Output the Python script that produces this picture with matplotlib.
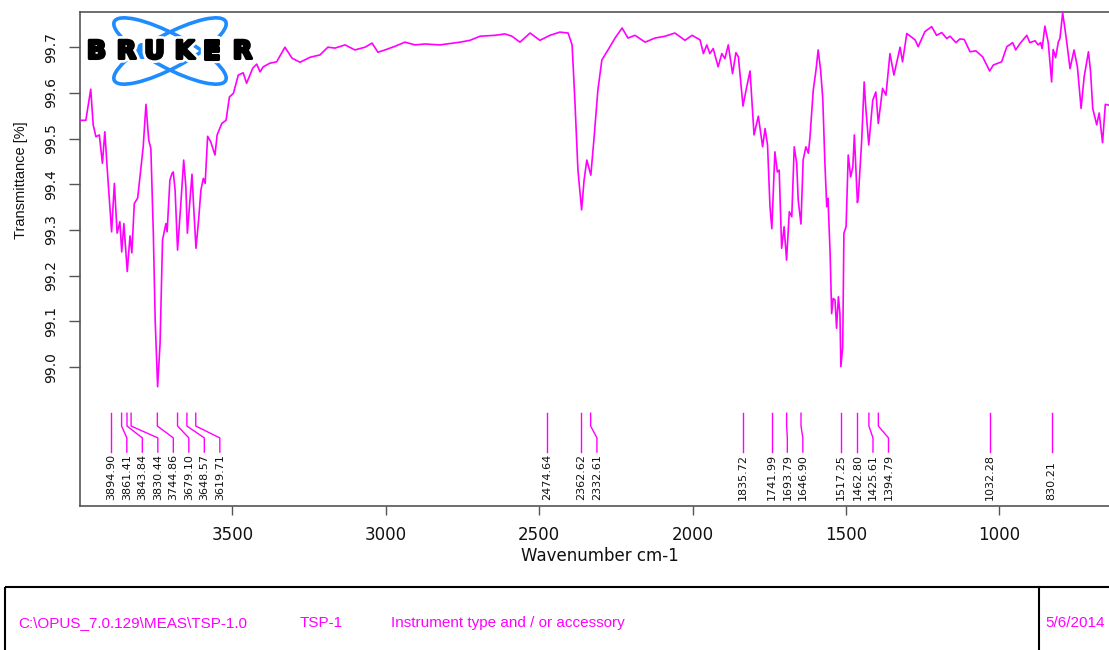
import matplotlib
matplotlib.use("Agg")
import numpy as np
import matplotlib.pyplot as plt
from matplotlib.patches import Ellipse, Circle, Rectangle
import matplotlib.patheffects as pe

# IR spectrum (wavenumber in cm-1, transmittance in %)
wavenumber = [
    3997, 3978, 3962, 3954, 3945, 3934, 3924, 3916, 3908, 3894,
    3885, 3876, 3867, 3861, 3854, 3843, 3834, 3828, 3820, 3809,
    3798, 3791, 3782, 3773, 3766, 3758, 3752, 3744, 3736, 3728,
    3717, 3713, 3704, 3697, 3693, 3687, 3679, 3669, 3659, 3652,
    3647, 3642, 3632, 3626, 3619, 3610, 3603, 3595, 3589, 3581,
    3571, 3557, 3550, 3535, 3521, 3510, 3497, 3481, 3465, 3454,
    3434, 3421, 3410, 3400, 3378, 3356, 3329, 3306, 3280, 3247,
    3215, 3189, 3166, 3133, 3101, 3068, 3045, 3026, 3003, 2970,
    2938, 2905, 2873, 2824, 2758, 2726, 2693, 2644, 2612, 2589,
    2563, 2530, 2498, 2465, 2433, 2406, 2393, 2384, 2374, 2362,
    2354, 2345, 2332, 2322, 2309, 2296, 2276, 2253, 2230, 2211,
    2188, 2155, 2123, 2090, 2058, 2025, 2002, 1976, 1965, 1954,
    1944, 1933, 1917, 1905, 1895, 1884, 1870, 1859, 1851, 1836,
    1826, 1813, 1800, 1786, 1778, 1772, 1764, 1756, 1748, 1742,
    1732, 1724, 1718, 1710, 1702, 1694, 1685, 1677, 1669, 1661,
    1656, 1647, 1640, 1631, 1623, 1618, 1607, 1598, 1591, 1583,
    1576, 1569, 1563, 1559, 1552, 1547, 1542, 1536, 1531, 1525,
    1520, 1517, 1511, 1507, 1500, 1493, 1485, 1478, 1473, 1463,
    1460, 1449, 1441, 1436, 1426, 1413, 1403, 1395, 1381, 1370,
    1357, 1344, 1324, 1316, 1302, 1275, 1265, 1243, 1221, 1205,
    1188, 1172, 1161, 1142, 1129, 1115, 1096, 1077, 1055, 1032,
    1020, 993, 976, 957, 947, 933, 911, 901, 884, 874,
    866, 861, 852, 841, 830, 825, 817, 808, 803, 794,
    783, 770, 757, 746, 734, 724, 710, 703, 696, 683,
    675, 664, 655, 643,
]
transmittance = [
    99.540, 99.540, 99.608, 99.530, 99.504, 99.508, 99.446, 99.515, 99.431, 99.296,
    99.402, 99.293, 99.318, 99.252, 99.314, 99.209, 99.287, 99.250, 99.358, 99.370,
    99.438, 99.482, 99.575, 99.497, 99.478, 99.293, 99.103, 98.957, 99.052, 99.278,
    99.314, 99.296, 99.409, 99.424, 99.427, 99.387, 99.256, 99.351, 99.453, 99.395,
    99.293, 99.336, 99.422, 99.344, 99.260, 99.325, 99.387, 99.413, 99.402, 99.505,
    99.493, 99.464, 99.508, 99.533, 99.540, 99.591, 99.599, 99.639, 99.644, 99.621,
    99.654, 99.663, 99.646, 99.657, 99.665, 99.668, 99.700, 99.676, 99.667, 99.678,
    99.683, 99.700, 99.698, 99.705, 99.694, 99.700, 99.709, 99.689, 99.694, 99.702,
    99.711, 99.705, 99.707, 99.705, 99.711, 99.715, 99.724, 99.726, 99.729, 99.724,
    99.711, 99.731, 99.715, 99.726, 99.733, 99.731, 99.705, 99.584, 99.431, 99.344,
    99.409, 99.453, 99.420, 99.497, 99.606, 99.672, 99.694, 99.720, 99.742, 99.720,
    99.726, 99.711, 99.720, 99.724, 99.731, 99.715, 99.726, 99.716, 99.686, 99.705,
    99.686, 99.697, 99.657, 99.686, 99.675, 99.705, 99.642, 99.688, 99.679, 99.571,
    99.606, 99.648, 99.508, 99.549, 99.511, 99.482, 99.522, 99.486, 99.351, 99.303,
    99.471, 99.427, 99.431, 99.260, 99.307, 99.234, 99.340, 99.329, 99.482, 99.446,
    99.365, 99.313, 99.453, 99.482, 99.468, 99.500, 99.606, 99.650, 99.694, 99.650,
    99.588, 99.446, 99.351, 99.369, 99.249, 99.117, 99.150, 99.147, 99.085, 99.154,
    99.117, 99.001, 99.044, 99.293, 99.307, 99.464, 99.416, 99.438, 99.508, 99.360,
    99.373, 99.497, 99.624, 99.570, 99.486, 99.584, 99.602, 99.533, 99.610, 99.595,
    99.686, 99.639, 99.700, 99.668, 99.730, 99.716, 99.701, 99.734, 99.745, 99.726,
    99.732, 99.719, 99.724, 99.710, 99.718, 99.717, 99.690, 99.692, 99.679, 99.648,
    99.661, 99.668, 99.701, 99.710, 99.694, 99.708, 99.726, 99.710, 99.714, 99.705,
    99.710, 99.697, 99.746, 99.710, 99.624, 99.695, 99.677, 99.712, 99.719, 99.775,
    99.723, 99.653, 99.694, 99.657, 99.566, 99.635, 99.690, 99.646, 99.566, 99.530,
    99.556, 99.491, 99.575, 99.573,
]

# picked peaks
peak_positions = [
    3894.90, 3861.41, 3843.84, 3830.44, 3744.86, 3679.10, 3648.57, 3619.71,
    2474.64, 2362.62, 2332.61,
    1835.72, 1741.99, 1693.79, 1646.90, 1517.25, 1462.80, 1425.61, 1394.79,
    1032.28, 830.21,
]

x_ticks = [3500, 3000, 2500, 2000, 1500, 1000]
y_ticks = [99.0, 99.1, 99.2, 99.3, 99.4, 99.5, 99.6, 99.7]

footer_path = "C:\\OPUS_7.0.129\\MEAS\\TSP-1.0"
footer_sample = "TSP-1"
footer_instrument = "Instrument type and / or accessory"
footer_date = "5/6/2014"

MAGENTA = "#ff00ff"
SPINE = "#555555"
W, H = 1109, 650

fig = plt.figure(figsize=(W / 100, H / 100), dpi=100)
fig.patch.set_facecolor("white")

ax = fig.add_axes([80 / W, 144 / H, 1029 / W, 494 / H])
ax.plot(wavenumber, transmittance, color=MAGENTA, lw=1.2, zorder=3)
ax.set_xlim(3997, 643)
ax.set_ylim(98.696, 99.777)

ax.set_xticks(x_ticks)
ax.set_xticklabels([str(v) for v in x_ticks])
ax.set_yticks(y_ticks)
ax.set_yticklabels([f"{v:.1f}" for v in y_ticks], rotation=90, va="center")
ax.tick_params(axis="x", length=6.5, width=1, color=SPINE, pad=8,
               labelsize=12, labelcolor="#111111")
ax.tick_params(axis="y", length=7.8, width=1, color=SPINE, pad=8,
               labelsize=10, labelcolor="#111111")
for side in ("left", "bottom", "top"):
    ax.spines[side].set_color(SPINE)
    ax.spines[side].set_linewidth(1.2)
ax.spines["right"].set_visible(False)

ax.set_xlabel("Wavenumber cm-1", fontsize=12, color="#111111")
ax.xaxis.label.set_va("center")
ax.xaxis.set_label_coords((600 - 80) / 1029, (506 - 556) / 494)
ax.set_ylabel("Transmittance [%]", fontsize=10.5, color="#111111",
              family="Liberation Sans")
ax.yaxis.label.set_va("center")
ax.yaxis.set_label_coords((21 - 80) / 1029, (506 - 180) / 494)

# peak labels: leader lines spread apart so the labels do not overlap
fig.canvas.draw()
to_px = ax.transData
to_data = to_px.inverted()
min_gap = 15.5
prev = -1e9
for p in peak_positions:
    xp = to_px.transform((p, 99.0))[0]
    xl = max(xp, prev + min_gap)
    prev = xl
    q = to_data.transform((xl, 99.0))[0]
    ax.plot([p, p, q, q], [98.899, 98.871, 98.845, 98.814],
            color=MAGENTA, lw=1.0, zorder=3)
    ax.text(q, 98.709, f"{p:.2f}", rotation=90, ha="center", va="bottom",
            fontsize=8, color="#111111")

# pixel-space layer for the logo and the footer block
ov = fig.add_axes([0, 0, 1, 1], facecolor="none")
ov.set_xlim(0, W)
ov.set_ylim(H, 0)
ov.axis("off")

# logo: two crossed orbits, one electron on each
BLUE = "#1e8bff"
cx, cy, a, b, tilt = 170.0, 51.0, 63.0, 17.0, 28.0
t = np.linspace(0, 2 * np.pi, 721)
for sgn in (1, -1):
    th = np.radians(sgn * tilt)
    ov.add_patch(Ellipse((cx, cy), 2 * a, 2 * b, angle=np.degrees(th),
                         fill=False, ec=BLUE, lw=2.6))
    ex = cx + a * np.cos(t) * np.cos(th) - b * np.sin(t) * np.sin(th)
    ey = cy + a * np.cos(t) * np.sin(th) + b * np.sin(t) * np.cos(th)
    half = ey < cy if sgn < 0 else ey > cy
    k = np.argmin(np.abs(ex[half] - 142))
    ov.add_patch(Circle((ex[half][k], ey[half][k]), 4.3, color=BLUE))

letter_x = [96.5, 126.5, 154.5, 184.5, 211.5, 242.5]
for ch, lx in zip("BRUKER", letter_x):
    ov.text(lx, 51.5, ch, ha="center", va="center", fontsize=18,
            fontweight="bold", color="black", family="DejaVu Sans",
            path_effects=[pe.Stroke(linewidth=6, foreground="white"),
                          pe.Stroke(linewidth=2.2, foreground="black"),
                          pe.Normal()])

ov.add_patch(Rectangle((5, 587), 1200, 120, fill=False, ec="black", lw=1.5,
                       clip_on=False))
ov.plot([1039, 1039], [587, 660], color="black", lw=1.5)
for tx, s in ((18, footer_path), (300, footer_sample),
              (391, footer_instrument), (1045, footer_date)):
    ov.text(tx, 623, s, ha="left", va="center", fontsize=11,
            family="Liberation Sans", color=MAGENTA)

fig.savefig("out.png", dpi=100)
